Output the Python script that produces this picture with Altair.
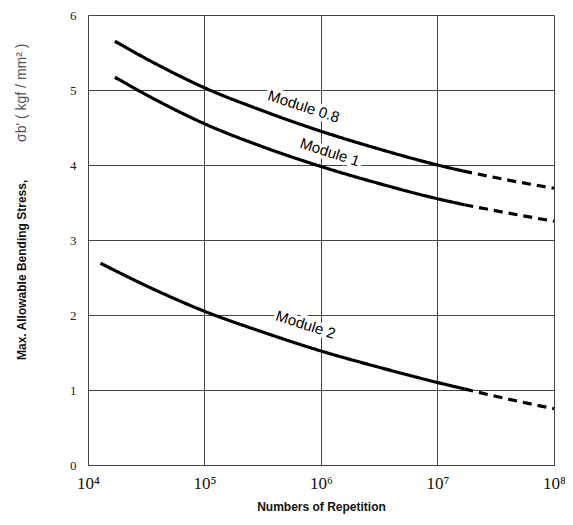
import altair as alt
import pandas as pd

# --- data ---
m08_solid_n = [1.7e4, 3.7e4, 1e5, 3.2e5, 1e6, 3.2e6, 1e7, 1.66e7]
m08_solid_s = [5.65, 5.36, 5.03, 4.72, 4.45, 4.21, 4.00, 3.92]
m08_dash_n = [1.66e7, 4e7, 1e8]
m08_dash_s = [3.92, 3.80, 3.69]

m1_solid_n = [1.7e4, 3.7e4, 1e5, 3.2e5, 1e6, 3.2e6, 1e7, 1.7e7]
m1_solid_s = [5.17, 4.88, 4.55, 4.24, 3.98, 3.75, 3.55, 3.47]
m1_dash_n = [1.7e7, 4e7, 1e8]
m1_dash_s = [3.47, 3.36, 3.25]

m2_solid_n = [1.28e4, 3.7e4, 1e5, 3.2e5, 1e6, 3.2e6, 1e7, 1.7e7]
m2_solid_s = [2.69, 2.34, 2.05, 1.77, 1.52, 1.30, 1.10, 1.015]
m2_dash_n = [1.7e7, 4e7, 1e8]
m2_dash_s = [1.015, 0.88, 0.75]

label_text = ["Module 0.8", "Module 1", "Module 2"]
label_n = [7.1e5, 1.19e6, 7.4e5]
label_s = [4.78, 4.17, 1.87]

x_ticks = [1e4, 1e5, 1e6, 1e7, 1e8]
x_tick_labels = ["10⁴", "10⁵", "10⁶", "10⁷", "10⁸"]
y_ticks = [0, 1, 2, 3, 4, 5, 6]

rows = []
for name, sn, ss, dn, ds in [
    ("Module 0.8", m08_solid_n, m08_solid_s, m08_dash_n, m08_dash_s),
    ("Module 1", m1_solid_n, m1_solid_s, m1_dash_n, m1_dash_s),
    ("Module 2", m2_solid_n, m2_solid_s, m2_dash_n, m2_dash_s),
]:
    for i, (n, s) in enumerate(zip(sn, ss)):
        rows.append({"N": n, "S": s, "seg": name + " solid", "style": "solid", "o": i})
    for i, (n, s) in enumerate(zip(dn, ds)):
        rows.append({"N": n, "S": s, "seg": name + " dash", "style": "dash", "o": i})
df = pd.DataFrame(rows)
lab = pd.DataFrame({"t": label_text, "N": label_n, "S": label_s})

expr = " : ".join(
    f"datum.value < {v * 3:g} ? '{t}'" for v, t in zip(x_ticks[:-1], x_tick_labels[:-1])
) + f" : '{x_tick_labels[-1]}'"

xscale = alt.Scale(type="log", domain=[1e4, 1e8], nice=False)
yscale = alt.Scale(domain=[0, 6], nice=False)

xenc = alt.X(
    "N:Q", scale=xscale,
    axis=alt.Axis(
        values=x_ticks, labelExpr=expr, title="Numbers of Repetition",
        grid=True, gridColor="#444", gridWidth=1, ticks=False, domain=False,
        labelFont="Liberation Serif", labelFontSize=17, labelColor="#111",
        labelPadding=10, labelFlush=False,
        titleFont="Liberation Sans", titleFontWeight="bold", titleFontSize=12,
        titleColor="#111", titlePadding=10,
    ),
)
yenc = alt.Y(
    "S:Q", scale=yscale,
    axis=alt.Axis(
        values=y_ticks, format="d", title="", grid=True, gridColor="#444",
        gridWidth=1, ticks=False, domain=False, labelFont="Liberation Serif",
        labelFontSize=13, labelColor="#222", labelPadding=12, labelFlush=False,
    ),
)

label_halo = alt.Chart(lab).mark_text(
    angle=18, font="Liberation Sans", fontSize=15, color="white",
    stroke="white", strokeWidth=7
).encode(x=xenc, y=yenc, text="t:N")

lines = alt.Chart(df).mark_line(
    color="black", strokeWidth=3.2, interpolate="monotone", strokeCap="butt"
).encode(
    x=xenc, y=yenc, detail="seg:N", order="o:Q",
    strokeDash=alt.StrokeDash(
        "style:N",
        scale=alt.Scale(domain=["solid", "dash"], range=[[1, 0], [9, 6]]),
        legend=None,
    ),
)

labels = alt.Chart(lab).mark_text(
    angle=18, font="Liberation Sans", fontSize=15, color="black"
).encode(x=xenc, y=yenc, text="t:N")

title_df = pd.DataFrame({"t": ["Max. Allowable Bending Stress,"]})
title_df2 = pd.DataFrame({"t": ["σb'  ( kgf / mm² )"]})
ytitle1 = alt.Chart(title_df).mark_text(
    angle=270, align="left", baseline="middle", font="Liberation Sans",
    fontWeight="bold", fontSize=12, color="#111"
).encode(x=alt.value(-66), y=alt.value(345), text="t:N")
ytitle2 = alt.Chart(title_df2).mark_text(
    angle=270, align="left", baseline="middle", font="Liberation Sans",
    fontSize=14, color="#555"
).encode(x=alt.value(-66), y=alt.value(127), text="t:N")

chart = alt.layer(label_halo, lines, labels, ytitle1, ytitle2).properties(
    width=466, height=450,
    autosize=alt.AutoSizeParams(type="none"),
    padding={"left": 80, "top": 7, "right": 11, "bottom": 60},
).configure_view(stroke="#222", strokeWidth=1.3).configure(background="white")

chart.save("out.html", embed_options={"renderer": "svg", "actions": False})
